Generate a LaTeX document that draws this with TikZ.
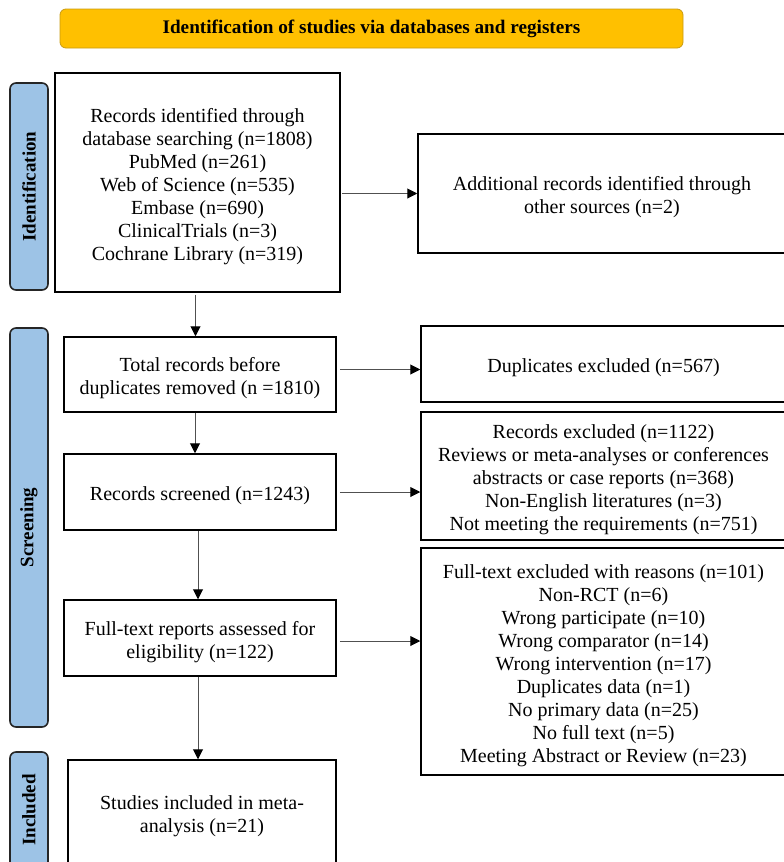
\documentclass[tikz,border=0pt]{standalone}
\usepackage{fontspec}
\setmainfont{Liberation Serif}
\usetikzlibrary{arrows.meta}
\definecolor{bannerfill}{HTML}{FFC000}
\definecolor{bannerline}{HTML}{C99B12}
\definecolor{labfill}{HTML}{9DC3E6}
\definecolor{labline}{HTML}{262626}
\definecolor{arrcol}{HTML}{505050}
\newcommand\boxstrut{\rule{0pt}{21.7pt}}
\begin{document}
\begin{tikzpicture}[x=1pt,y=1pt,
  flowbox/.style={draw=black, line width=1.5pt, align=center, inner sep=0pt,
    font=\fontsize{20}{23}\selectfont, anchor=center},
  sidelab/.style={draw=labline, fill=labfill, line width=1.6pt, rounded corners=6pt,
    rotate=90, inner sep=0pt, anchor=center, font=\bfseries\fontsize{19}{22}\selectfont,
    minimum height=38pt},
  arr/.style={draw=arrcol, line width=1pt, -{Triangle[length=10pt,width=10pt,color=black]}}]
\useasboundingbox (0,0) rectangle (784,-862);

% banner
\node[draw=bannerline, fill=bannerfill, line width=0.8pt, rounded corners=6pt,
  minimum width=623pt, minimum height=39pt, inner sep=0pt,
  font=\bfseries\fontsize{19.2}{22}\selectfont] (banner) at (371.5,-28.5)
  {\raisebox{-2.5pt}{Identification of studies via databases and registers}};

% side labels
\node[sidelab, minimum width=207pt] (labid) at (29,-186.5) {Identification};
\node[sidelab, minimum width=399pt] (labsc) at (29,-527.5) {Screening};
\node[sidelab, minimum width=116pt] (labin) at (29,-810) {Included};

% boxes
\node[flowbox, minimum width=285pt, minimum height=219pt] (b1) at (197.5,-182.5)
  {\boxstrut Records identified through\\database searching (n=1808)\\PubMed (n=261)\\Web of Science (n=535)\\Embase (n=690)\\ClinicalTrials (n=3)\\Cochrane Library (n=319)};
\node[flowbox, minimum width=368pt, minimum height=119pt] (b2) at (602,-193.5)
  {\boxstrut Additional records identified through\\other sources (n=2)};
\node[flowbox, minimum width=272pt, minimum height=75pt] (b3) at (200,-374.5)
  {\boxstrut Total records before\\duplicates removed (n =1810)};
\node[flowbox, minimum width=365pt, minimum height=76pt] (b4) at (603.5,-364)
  {\boxstrut Duplicates excluded (n=567)};
\node[flowbox, minimum width=272pt, minimum height=76pt] (b5) at (200,-492)
  {\boxstrut Records screened (n=1243)};
\node[flowbox, minimum width=365pt, minimum height=128pt] (b6) at (603.5,-476)
  {\boxstrut Records excluded (n=1122)\\Reviews or meta-analyses or conferences\\abstracts or case reports (n=368)\\Non-English literatures (n=3)\\Not meeting the requirements (n=751)};
\node[flowbox, minimum width=272pt, minimum height=76pt] (b7) at (200,-638)
  {\boxstrut Full-text reports assessed for\\eligibility (n=122)};
\node[flowbox, minimum width=365pt, minimum height=227pt] (b8) at (603.5,-661.5)
  {\boxstrut Full-text excluded with reasons (n=101)\\Non-RCT (n=6)\\Wrong participate (n=10)\\Wrong comparator (n=14)\\Wrong intervention (n=17)\\Duplicates data (n=1)\\No primary data (n=25)\\No full text (n=5)\\Meeting Abstract or Review (n=23)};
\node[flowbox, minimum width=268pt, minimum height=109pt] (b9) at (202,-814.5)
  {\rule{0pt}{17.7pt}Studies included in meta-\\analysis (n=21)};

% connectors
\draw[arr] ([xshift=-2pt,yshift=-2pt]b1.south) -- ([xshift=-2pt]b1.south |- b3.north);
\draw[arr] ([xshift=1pt]b2.west -| b1.east) -- (b2.west);
\draw[arr] ([xshift=3pt,yshift=5pt]b3.east) -- ([yshift=5pt]b3.east -| b4.west);
\draw[arr] ([xshift=-5pt]b3.south) -- ([xshift=-5pt]b3.south |- b5.north);
\draw[arr] ([xshift=3pt]b5.east) -- (b5.east -| b6.west);
\draw[arr] ([xshift=-2pt]b5.south) -- ([xshift=-2pt]b5.south |- b7.north);
\draw[arr] ([xshift=3pt,yshift=-3pt]b7.east) -- ([yshift=-3pt]b7.east -| b8.west);
\draw[arr] ([xshift=-2pt]b7.south) -- ([xshift=-2pt]b7.south |- b9.north);
\end{tikzpicture}
\end{document}
